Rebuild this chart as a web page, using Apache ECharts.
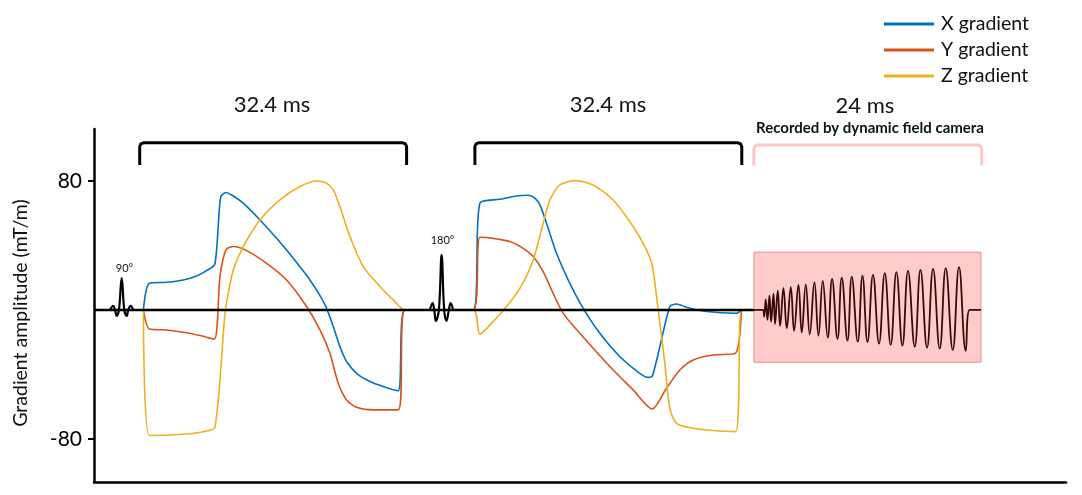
<!DOCTYPE html>
<html>
<head>
<meta charset="utf-8">
<title>Gradient waveform</title>
<script src="https://cdn.jsdelivr.net/npm/echarts@6/dist/echarts.min.js"></script>
<style>
  html, body { margin: 0; padding: 0; background: #fff; }
  #chart { width: 1082px; height: 495px; }
</style>
</head>
<body>
<div id="chart"></div>
<script>
// time in ms, amplitude in mT/m
var seriesNames = ['X gradient', 'Y gradient', 'Z gradient'];
var yTicks = [80, -80];

var xGrad = [
  [6.0, 0], [6.72, 16.5], [8.82, 17.2], [10.84, 18.6], [12.46, 21.1], [13.67, 24.4], [14.68, 28.5],
  [15.37, 69.9], [16.02, 72.8], [16.71, 71.3], [18.12, 66.2], [20.15, 55.8], [22.17, 44.4],
  [24.19, 32.0], [26.21, 18.6], [27.63, 7.2], [28.24, 1.0], [29.05, -10.3], [29.85, -22.7],
  [30.66, -32.0], [31.88, -39.3], [33.50, -44.4], [35.11, -47.5], [36.93, -50.2], [37.74, 0],
  [46.04, 0], [46.84, 66.2], [49.27, 68.6], [51.29, 70.7], [52.71, 71.1], [53.52, 69.3],
  [54.13, 65.1], [54.94, 53.7], [56.15, 35.1], [57.77, 16.5], [59.39, 1.0], [61.41, -14.5],
  [63.83, -28.9], [66.26, -39.3], [67.27, -41.8], [67.76, -41.3], [69.90, 2.1], [70.71, 3.7],
  [71.93, 1.7], [74.35, -1.0], [77.99, -2.1], [78.60, 0]
];
var yGrad = [
  [6.0, 0], [6.72, -11.8], [8.82, -12.4], [11.25, -14.1], [12.86, -15.9], [14.60, -18.2],
  [15.29, 20.7], [16.02, 37.2], [16.91, 39.3], [18.53, 36.8], [20.96, 28.9], [23.38, 18.6],
  [25.81, 2.1], [27.43, -12.4], [28.64, -26.9], [29.65, -45.5], [30.66, -55.8], [31.88, -60.4],
  [33.90, -62.0], [36.93, -62.0], [37.74, 0],
  [46.04, 0], [46.84, 45.1], [48.46, 44.4], [50.49, 42.4], [52.10, 38.2], [53.32, 33.1],
  [54.53, 23.8], [55.74, 10.3], [56.96, -2.1], [58.98, -14.5], [62.62, -35.1], [65.45, -49.6],
  [67.76, -61.4], [69.50, -48.6], [71.12, -37.2], [72.74, -31.0], [75.16, -27.9], [77.87, -26.9],
  [78.60, 0]
];
var zGrad = [
  [6.0, 0], [6.72, -77.9], [10.84, -77.1], [13.27, -75.5], [14.68, -72.8], [15.90, -2.1],
  [16.30, 10.3], [16.91, 24.8], [18.12, 39.3], [20.15, 55.8], [22.57, 68.2], [25.0, 76.5],
  [27.02, 80.0], [28.24, 78.6], [29.05, 74.4], [29.85, 64.1], [31.07, 45.5], [32.69, 26.9],
  [34.71, 14.5], [36.33, 6.2], [37.74, 0],
  [46.04, 0], [46.84, -15.1], [48.46, -7.2], [50.08, 2.1], [51.70, 13.4], [53.32, 31.0],
  [54.53, 53.7], [55.34, 68.2], [56.55, 77.5], [58.37, 80.2], [60.60, 77.5], [63.03, 68.2],
  [65.45, 51.7], [67.07, 37.2], [67.80, 26.9], [68.49, 0], [69.30, -33.1], [69.90, -61.0],
  [70.71, -70.3], [72.74, -73.4], [75.16, -74.8], [77.87, -75.5], [78.60, 0], [80.1, 0]
];

// RF pulses
var rf90 = [
  [1.94, 0], [2.34, 2.5], [2.55, 0], [2.75, -3.7], [3.03, 0], [3.36, 19.8],
  [3.68, 0], [3.97, -3.7], [4.16, 0], [4.45, 2.5], [4.77, 0]
];
var rf180 = [
  [40.78, 0], [41.10, 4.2], [41.30, 0], [41.50, -6.8], [41.87, 0], [42.20, 34.1],
  [42.51, 0], [42.80, -6.8], [43.08, 0], [43.29, 4.2], [43.60, 0]
];

// readout signal (peaks and troughs)
var readout = [
  [80.13, 0], [81.23, 0],
  [81.35, -4.2], [81.55, 6.6], [81.76, -6.2], [82.00, 8.9], [82.20, -7.3], [82.49, 10.1],
  [82.68, -8.7], [83.01, 12.0], [83.29, -9.9], [83.70, 13.5], [84.10, -11.3], [84.59, 14.1],
  [84.99, -13.0], [85.52, 15.5], [85.92, -14.1], [86.41, 15.9], [86.89, -15.1], [87.46, 17.2],
  [87.95, -15.9], [88.47, 18.0], [89.08, -17.2], [89.60, 19.2], [90.26, -18.0], [90.78, 20.0],
  [91.47, -19.0], [91.99, 20.7], [92.72, -19.7], [93.29, 21.3], [93.90, -20.0], [94.57, 21.7],
  [95.30, -20.9], [96.00, 22.8], [96.72, -21.7], [97.41, 23.4], [98.14, -22.1], [98.82, 24.2],
  [99.64, -22.8], [100.33, 24.8], [101.13, -23.4], [101.86, 25.4], [102.67, -24.0], [103.40, 25.9],
  [104.25, -24.8], [105.01, 26.5], [105.83, -25.4], [106.31, 0], [107.68, 0]
];
var baseline = [[0, 0], [80.13, 0]];
var cameraBox = [[80.13, 35.8], [107.68, -32.4]];

// brackets [start, end] in ms
var brackets = [[5.55, 37.95], [46.24, 78.64]];
var cameraBracket = [80.1, 107.77];
var bracketLabels = ['32.4 ms', '32.4 ms', '24 ms'];

var colors = ['#0072BD', '#D95319', '#EDB120'];
var font = 'Lato, "Open Sans", sans-serif';

function bracketPoints(x0, x1, top, foot) {
  var dx = 0.45, dy = 2.3;
  return [
    [x0, foot], [x0, top - dy], [x0 + dx * 0.3, top - dy * 0.3], [x0 + dx, top],
    [x1 - dx, top], [x1 - dx * 0.3, top - dy * 0.3], [x1, top - dy], [x1, foot]
  ];
}

function lineSeries(name, data, color, width, z, smooth) {
  return {
    name: name,
    type: 'line',
    data: data,
    symbol: 'none',
    smooth: smooth || false,
    z: z,
    lineStyle: { color: color, width: width, join: 'round' },
    itemStyle: { color: color },
    silent: true
  };
}

function getSeries() {
  var list = [
    lineSeries(seriesNames[0], xGrad, colors[0], 1.6, 2, 0.25),
    lineSeries(seriesNames[1], yGrad, colors[1], 1.6, 2, 0.25),
    lineSeries(seriesNames[2], zGrad, colors[2], 1.6, 2, 0.25),
    lineSeries('baseline', baseline, '#000', 2.5, 3),
    lineSeries('rf90', rf90, '#000', 2.2, 4, 0.4),
    lineSeries('rf180', rf180, '#000', 2.2, 4, 0.4)
  ];
  var ro = lineSeries('readout', readout, '#3a0a0a', 1.8, 5, 0.45);
  ro.markArea = {
    silent: true,
    itemStyle: { color: '#ffcccc', borderColor: '#e98c8c', borderWidth: 1 },
    data: [[{ coord: cameraBox[0] }, { coord: cameraBox[1] }]]
  };
  list.push(ro);
  brackets.forEach(function (b, i) {
    list.push(lineSeries('bracket' + i, bracketPoints(b[0], b[1], 103.6, 89.9), '#000', 3, 3));
  });
  list.push(lineSeries('bracketCam', bracketPoints(cameraBracket[0], cameraBracket[1], 102.3, 89.6), '#ffc6c6', 3, 3));
  return list;
}

function textEl(text, x, y, size, weight, rot) {
  return {
    type: 'text',
    x: x,
    y: y,
    rotation: rot || 0,
    style: {
      text: text,
      fill: '#111',
      font: (weight || 'normal') + ' ' + size + 'px ' + font,
      textAlign: 'center',
      textVerticalAlign: 'middle'
    }
  };
}

function getOption() {
  return {
    animation: false,
    color: colors,
    grid: { left: 94, right: 16, top: 129, bottom: 13, containLabel: false },
    legend: {
      data: seriesNames,
      orient: 'vertical',
      left: 879,
      top: 6,
      icon: 'rect',
      itemWidth: 50,
      itemHeight: 3,
      itemGap: 0,
      textStyle: { fontFamily: font, fontSize: 19.5, color: '#111', lineHeight: 26, padding: [0, 0, 0, 2] }
    },
    xAxis: {
      type: 'value',
      min: 0,
      max: 118,
      axisLine: { show: true, onZero: false, lineStyle: { color: '#000', width: 2.5 } },
      axisTick: { show: false },
      axisLabel: { show: false },
      splitLine: { show: false }
    },
    yAxis: {
      type: 'value',
      min: -106.7,
      max: 112.2,
      axisLine: { show: true, lineStyle: { color: '#000', width: 2.5 } },
      axisTick: { show: true, customValues: yTicks, length: 6, lineStyle: { color: '#000', width: 2 } },
      axisLabel: { customValues: yTicks, margin: 12, fontFamily: font, fontSize: 21, color: '#000' },
      splitLine: { show: false }
    },
    graphic: [
      textEl('Gradient amplitude (mT/m)', 21, 313, 19.5, 'normal', Math.PI / 2),
      textEl(bracketLabels[0], 272, 105, 22),
      textEl(bracketLabels[1], 608, 105, 22),
      textEl(bracketLabels[2], 865, 106, 22),
      textEl('Recorded by dynamic field camera', 870, 128, 15, 'bold'),
      textEl('90°', 124.5, 268.5, 11),
      textEl('180°', 442.5, 240, 11)
    ],
    series: getSeries()
  };
}

var myChart = echarts.init(document.getElementById('chart'));
myChart.setOption(getOption());
</script>
</body>
</html>
